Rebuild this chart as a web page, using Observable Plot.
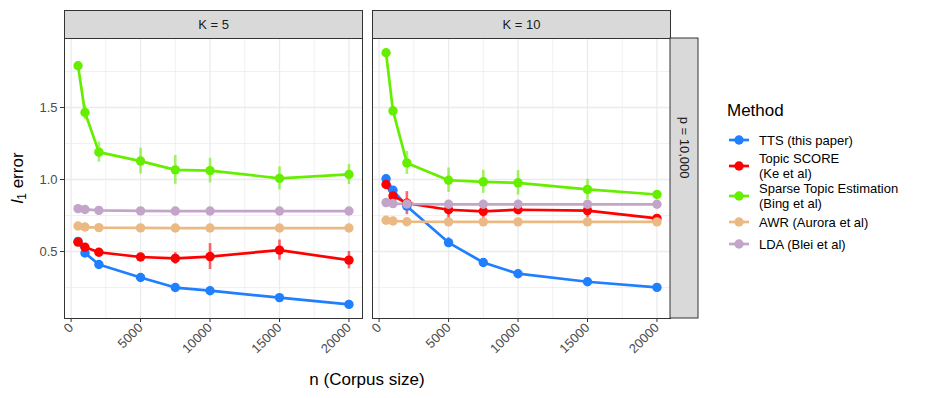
<!DOCTYPE html>
<html><head><meta charset="utf-8">
<script src="https://cdn.jsdelivr.net/npm/d3@7"></script>
<script src="https://cdn.jsdelivr.net/npm/@observablehq/plot@0.6"></script>
<style>
body{margin:0;background:#fff;font-family:"Liberation Sans",Arial,sans-serif;}
#wrap{position:relative;width:940px;height:398px;overflow:hidden;}
#chart{position:absolute;left:0;top:0;}
.ylab{position:absolute;left:18px;top:178px;transform:translate(-50%,-50%) rotate(-90deg);font-size:17px;white-space:nowrap;color:#000;}
.ylab sub{font-size:12px;vertical-align:-3px;line-height:0;}
.xlab{position:absolute;left:367px;top:380px;transform:translate(-50%,-50%);font-size:17px;white-space:nowrap;color:#000;}
#legend{position:absolute;left:727px;top:100px;color:#000;}
#legend .title{font-size:17px;line-height:21px;margin-bottom:8px;}
#legend .row{display:flex;align-items:center;min-height:22px;padding-left:2px;}
#legend .row svg{flex:none;margin-right:10px;}
#legend .row span{font-size:13px;line-height:15px;white-space:pre-line;}
</style>
</head><body>
<div id="wrap"><div id="chart"></div></div>
<script>
const nValues = [500, 1000, 2000, 5000, 7500, 10000, 15000, 20000];
const kValues = [5, 10];
const methods = ["TTS (this paper)", "Topic SCORE (Ke et al)", "Sparse Topic Estimation (Bing et al)", "AWR (Aurora et al)", "LDA (Blei et al)"];
const legendLabels = ["TTS (this paper)", "Topic SCORE\n(Ke et al)", "Sparse Topic Estimation\n(Bing et al)", "AWR (Aurora et al)", "LDA (Blei et al)"];
const methodColors = ["#1F7FFF", "#FF0000", "#66EE00", "#EBBA84", "#C3A5C9"];
const stripRight = "p = 10,000";

// K = 5
const tts5   = [0.57, 0.49, 0.41, 0.32, 0.25, 0.228, 0.18, 0.133];
const score5 = [0.565, 0.53, 0.495, 0.462, 0.452, 0.465, 0.51, 0.44];
const ste5   = [1.79, 1.465, 1.19, 1.128, 1.067, 1.062, 1.008, 1.035];
const awr5   = [0.677, 0.67, 0.666, 0.664, 0.663, 0.663, 0.663, 0.663];
const lda5   = [0.798, 0.792, 0.786, 0.782, 0.781, 0.781, 0.781, 0.781];
const ttsSe5   = [0.01, 0.01, 0.01, 0.01, 0.01, 0.01, 0.01, 0.01];
const scoreSe5 = [0.01, 0.02, 0.02, 0.02, 0.04, 0.09, 0.07, 0.06];
const steSe5   = [0.01, 0.05, 0.07, 0.09, 0.10, 0.085, 0.08, 0.07];
const awrSe5   = [0.005, 0.005, 0.005, 0.005, 0.005, 0.005, 0.005, 0.005];
const ldaSe5   = [0.005, 0.005, 0.005, 0.005, 0.005, 0.005, 0.005, 0.005];

// K = 10
const tts10   = [1.005, 0.925, 0.815, 0.562, 0.424, 0.346, 0.29, 0.251];
const score10 = [0.965, 0.885, 0.836, 0.79, 0.779, 0.79, 0.784, 0.73];
const ste10   = [1.88, 1.477, 1.115, 0.995, 0.984, 0.977, 0.931, 0.896];
const awr10   = [0.717, 0.712, 0.707, 0.706, 0.706, 0.706, 0.706, 0.706];
const lda10   = [0.84, 0.833, 0.83, 0.828, 0.828, 0.828, 0.828, 0.828];
const ttsSe10   = [0.01, 0.01, 0.01, 0.035, 0.01, 0.01, 0.01, 0.01];
const scoreSe10 = [0.01, 0.02, 0.08, 0.06, 0.07, 0.03, 0.05, 0.02];
const steSe10   = [0.01, 0.02, 0.08, 0.085, 0.08, 0.085, 0.07, 0.02];
const awrSe10   = [0.005, 0.005, 0.005, 0.005, 0.005, 0.005, 0.005, 0.005];
const ldaSe10   = [0.005, 0.005, 0.005, 0.005, 0.005, 0.005, 0.005, 0.005];

const xMajor = [0, 5000, 10000, 15000, 20000];
const xMinor = [2500, 7500, 12500, 17500];
const yMajor = [0.5, 1.0, 1.5];
const yMinor = [0.25, 0.75, 1.25, 1.75];

const series = {
  5:  [[tts5, ttsSe5], [score5, scoreSe5], [ste5, steSe5], [awr5, awrSe5], [lda5, ldaSe5]],
  10: [[tts10, ttsSe10], [score10, scoreSe10], [ste10, steSe10], [awr10, awrSe10], [lda10, ldaSe10]]
};
const rows = [];
for (const K of kValues) {
  series[K].forEach(([vals, ses], mi) => {
    vals.forEach((v, i) => rows.push({K, n: nValues[i], method: methods[mi], value: v, se: ses[i]}));
  });
}

const chart = Plot.plot({
  width: 700, height: 398,
  marginLeft: 64, marginRight: 30, marginTop: 38, marginBottom: 80,
  style: {fontFamily: "Liberation Sans, Arial, sans-serif", fontSize: "13px", background: "white"},
  fx: {domain: kValues, paddingInner: 10 / 308, paddingOuter: 0, axis: null, label: null},
  x: {domain: [-475, 20975], label: null},
  y: {domain: [0.035, 1.979], label: null},
  color: {domain: methods, range: methodColors},
  marks: [
    Plot.gridX(xMinor, {stroke: "#EBEBEB", strokeOpacity: 1, strokeWidth: 0.7}),
    Plot.gridY(yMinor, {stroke: "#EBEBEB", strokeOpacity: 1, strokeWidth: 0.7}),
    Plot.gridX(xMajor, {stroke: "#EBEBEB", strokeOpacity: 1, strokeWidth: 1.3}),
    Plot.gridY(yMajor, {stroke: "#EBEBEB", strokeOpacity: 1, strokeWidth: 1.3}),
    Plot.ruleX(rows, {fx: "K", x: "n", y1: d => d.value - d.se, y2: d => d.value + d.se, stroke: "method", strokeWidth: 2.6, strokeOpacity: 0.6}),
    Plot.line(rows, {fx: "K", x: "n", y: "value", z: "method", stroke: "method", strokeWidth: 2.7}),
    Plot.dot(rows, {fx: "K", x: "n", y: "value", fill: "method", r: 4.7}),
    Plot.frame({stroke: "#333333", strokeWidth: 1}),
    Plot.frame({insetTop: -28, insetBottom: 280, fill: "#D9D9D9", stroke: "#333333", strokeWidth: 1}),
    Plot.text(kValues, {fx: d => d, text: d => `K = ${d}`, frameAnchor: "top", dy: -14, lineAnchor: "middle", fontSize: 13, fill: "#1A1A1A"}),
    Plot.rect([10], {fx: d => d, insetLeft: 298, insetRight: -28, fill: "#D9D9D9", stroke: "#333333", strokeWidth: 1}),
    Plot.text([10], {fx: d => d, text: () => stripRight, frameAnchor: "right", dx: 14, rotate: 90, lineAnchor: "middle", fontSize: 13, fill: "#1A1A1A"}),
    Plot.axisX({ticks: xMajor, tickFormat: d3.format("d"), tickRotate: -45, tickSize: 4, tickPadding: 3, stroke: "#333333", fill: "#4D4D4D", label: null}),
    Plot.axisY({ticks: yMajor, tickFormat: d3.format(".1f"), tickSize: 4, tickPadding: 3, stroke: "#333333", fill: "#4D4D4D", label: null})
  ]
});
document.getElementById("chart").appendChild(chart);

const wrap = document.getElementById("wrap");
const ylab = document.createElement("div");
ylab.className = "ylab";
ylab.innerHTML = "<i>l</i><sub>1</sub> error";
wrap.appendChild(ylab);
const xlab = document.createElement("div");
xlab.className = "xlab";
xlab.textContent = "n (Corpus size)";
wrap.appendChild(xlab);

const legend = document.createElement("div");
legend.id = "legend";
let html = `<div class="title">Method</div>`;
legendLabels.forEach((lab, i) => {
  const c = methodColors[i];
  html += `<div class="row"><svg width="20" height="14"><line x1="0" x2="20" y1="7" y2="7" stroke="${c}" stroke-width="2.7"/><circle cx="10" cy="7" r="4.7" fill="${c}"/></svg><span>${lab}</span></div>`;
});
legend.innerHTML = html;
wrap.appendChild(legend);
</script>
</body></html>
